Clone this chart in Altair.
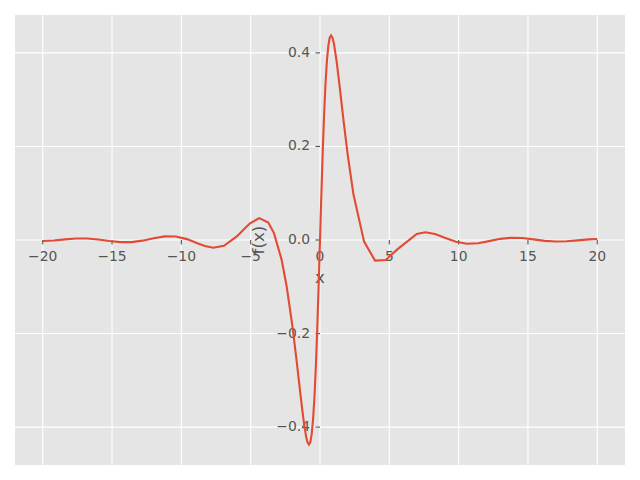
import altair as alt
import pandas as pd

x_vals = [-20.0, -19.2, -18.4, -17.6, -16.8, -16.0, -15.2, -14.4, -13.6, -12.8,
          -12.0, -11.2, -10.4, -9.6, -8.8, -8.3, -7.7, -6.93, -6.0, -5.05,
          -4.38, -3.73, -3.32, -2.77, -2.4, -2.0, -1.7, -1.4, -1.2, -1.0,
          -0.9, -0.8, -0.7, -0.6, -0.5, -0.4, -0.3, -0.2, -0.1, -0.05,
          0.0, 0.05, 0.1, 0.2, 0.3, 0.4, 0.5, 0.6, 0.7, 0.8,
          0.9, 1.0, 1.2, 1.4, 1.7, 2.0, 2.41, 3.18, 3.97, 4.74,
          5.6, 6.98, 7.6, 8.3, 9.0, 9.8, 10.6, 11.4, 12.2, 13.0,
          13.8, 14.6, 15.4, 16.2, 17.0, 17.8, 18.6, 19.4, 20.0]
y_vals = [-0.00228, -0.00093, 0.00128, 0.00305, 0.00313, 0.00112, -0.00209, -0.00463, -0.00462, -0.00140,
          0.00370, 0.00774, 0.00758, 0.00187, -0.00746, -0.0129, -0.01639, -0.01229, 0.00755, 0.03561,
          0.04684, 0.03722, 0.01477, -0.04187, -0.0999, -0.1819, -0.2549, -0.3329, -0.3820, -0.4207,
          -0.4328, -0.4374, -0.4324, -0.4152, -0.3836, -0.3357, -0.2711, -0.1910, -0.0988, -0.0499,
          0.0, 0.0499, 0.0988, 0.1910, 0.2711, 0.3357, 0.3836, 0.4152, 0.4324, 0.4374,
          0.4328, 0.4207, 0.3820, 0.3329, 0.2549, 0.1819, 0.0981, -0.0035, -0.0440, -0.0426,
          -0.0195, 0.0129, 0.01647, 0.0129, 0.00503, -0.00378, -0.00814, -0.00702, -0.00239, 0.00247,
          0.00493, 0.00418, 0.00127, -0.00179, -0.00332, -0.00273, -0.00071, 0.00139, 0.00228]

x_ticks = [-20, -15, -10, -5, 0, 5, 10, 15, 20]
x_tick_labels = ["\u221220", "\u221215", "\u221210", "\u22125", "0", "5", "10", "15", "20"]
y_ticks = [-0.4, -0.2, 0.0, 0.2, 0.4]
y_tick_labels = ["\u22120.4", "\u22120.2", "0.0", "0.2", "0.4"]

x_domain = [-22, 22]
y_domain = [-0.481, 0.481]

FONT = "DejaVu Sans"
TXT = "#555555"

curve = pd.DataFrame({"x": x_vals, "y": y_vals})
xt = pd.DataFrame({"v": x_ticks, "label": x_tick_labels})
yt = pd.DataFrame({"v": y_ticks, "label": y_tick_labels})

xs = alt.Scale(domain=x_domain, nice=False, zero=False)
ys = alt.Scale(domain=y_domain, nice=False, zero=False)

grid_x = alt.Chart(xt).mark_rule(color="white", strokeWidth=1.1).encode(
    x=alt.X("v:Q", scale=xs, axis=None))
grid_y = alt.Chart(yt).mark_rule(color="white", strokeWidth=1.1).encode(
    y=alt.Y("v:Q", scale=ys, axis=None))

tick_x = alt.Chart(xt).mark_rule(color=TXT, strokeWidth=1.1, y2Offset=4.5).encode(
    x=alt.X("v:Q", scale=xs, axis=None),
    y=alt.YDatum(0, scale=ys, axis=None),
    y2=alt.Y2Datum(0))
tick_y = alt.Chart(yt).mark_rule(color=TXT, strokeWidth=1.1, x2Offset=-4.5).encode(
    y=alt.Y("v:Q", scale=ys, axis=None),
    x=alt.XDatum(0, scale=xs, axis=None),
    x2=alt.X2Datum(0))

lab_x = alt.Chart(xt).mark_text(font=FONT, fontSize=13.9, color=TXT, align="center",
                                baseline="alphabetic", dy=21).encode(
    x=alt.X("v:Q", scale=xs, axis=None),
    y=alt.YDatum(0, scale=ys, axis=None),
    text="label:N")
lab_y = alt.Chart(yt).mark_text(font=FONT, fontSize=13.9, color=TXT, align="right",
                                baseline="middle", dx=-10).encode(
    y=alt.Y("v:Q", scale=ys, axis=None),
    x=alt.XDatum(0, scale=xs, axis=None),
    text="label:N")

title_x = alt.Chart(pd.DataFrame({"t": ["x"]})).mark_text(
    font=FONT, fontSize=16.7, color=TXT, align="center", baseline="alphabetic", dy=43).encode(
    x=alt.XDatum(0, scale=xs, axis=None),
    y=alt.YDatum(0, scale=ys, axis=None),
    text="t:N")
title_y = alt.Chart(pd.DataFrame({"t": ["f(x)"]})).mark_text(
    font=FONT, fontSize=16.7, color=TXT, align="center", baseline="middle", angle=270,
    xOffset=-61).encode(
    x=alt.XDatum(0, scale=xs, axis=None),
    y=alt.YDatum(0, scale=ys, axis=None),
    text="t:N")

line = alt.Chart(curve).mark_line(color="#E24A33", strokeWidth=2.1).encode(
    x=alt.X("x:Q", scale=xs, axis=None),
    y=alt.Y("y:Q", scale=ys, axis=None),
    order="x:Q")

chart = alt.layer(grid_x, grid_y, tick_x, tick_y, lab_x, lab_y, title_x, title_y, line).properties(
    width=610, height=450,
    padding={"left": 6, "top": 6, "right": 0, "bottom": 0},
    background="white",
).configure_view(fill="#E5E5E5", strokeWidth=0)

chart.save("out.html", embed_options={"renderer": "svg", "actions": False})
